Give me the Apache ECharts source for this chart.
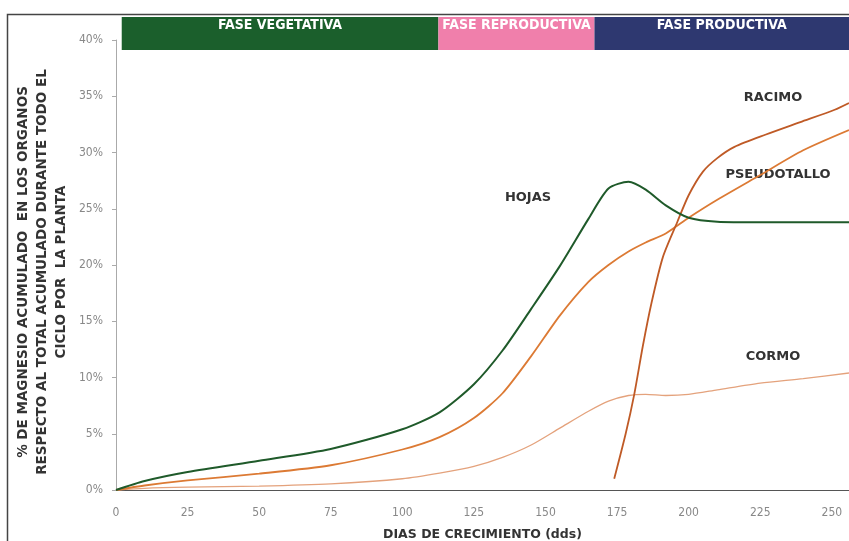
<!DOCTYPE html>
<html>
<head>
<meta charset="utf-8">
<script src="https://cdn.jsdelivr.net/npm/echarts@6/dist/echarts.min.js"></script>
<style>html,body{margin:0;padding:0;background:#fff}#c{width:849px;height:541px}</style>
</head>
<body>
<div id="c"></div>
<script>
// ---- data (días de crecimiento, % de magnesio acumulado) ----
var dias        = [0, 10, 25, 50, 75, 100, 113, 125, 135, 145, 155, 165, 172, 179, 185, 192, 200, 210, 225, 240, 256];
var hojas       = [0, 0.8, 1.6, 2.6, 3.65, 5.4, 6.9, 9.4, 12.4, 16.1, 19.9, 24.1, 26.8, 27.4, 26.7, 25.3, 24.2, 23.85, 23.8, 23.8, 23.8];
var pseudotallo = [0, 0.4, 0.85, 1.45, 2.2, 3.6, 4.7, 6.4, 8.6, 11.9, 15.5, 18.5, 20.0, 21.2, 22.0, 22.8, 24.2, 25.8, 28.0, 30.2, 32.0];
var cormo       = [0, 0.15, 0.25, 0.35, 0.55, 1.0, 1.5, 2.1, 2.9, 4.0, 5.5, 7.0, 7.9, 8.4, 8.5, 8.4, 8.5, 8.9, 9.5, 9.9, 10.4];
var racimoDias  = [174, 178, 181, 184, 187, 191, 196, 200, 205, 210, 216, 227, 239, 251, 256];
var racimo      = [1.0, 5.0, 8.5, 12.8, 16.6, 20.7, 23.8, 26.2, 28.3, 29.5, 30.5, 31.6, 32.7, 33.8, 34.4];
var fases       = ['FASE VEGETATIVA', 'FASE REPRODUCTIVA', 'FASE PRODUCTIVA'];
var faseInicio  = [2, 112.6, 167.1];
var faseFin     = [112.6, 167.1, 256.3];
var xTicks      = [0, 25, 50, 75, 100, 125, 150, 175, 200, 225, 250];
var yTicks      = [0, 5, 10, 15, 20, 25, 30, 35, 40];
var etiquetas   = ['HOJAS', 'PSEUDOTALLO', 'RACIMO', 'CORMO'];

function pares(xs, ys){ return xs.map(function(x,i){ return [x, ys[i]]; }); }

var colores = { hojas:'#1f5a2a', pseudo:'#dc7a34', racimo:'#bf5a26', cormo:'#e4a27c' };
var faseColores = ['#1b5f2c', '#f07fab', '#2e3870'];

var faseSeries = [{
  type:'bar', xAxisIndex:1, yAxisIndex:1, stack:'f', silent:true,
  data:[faseInicio[0]], itemStyle:{color:'transparent'}, barWidth:'100%'
}];
fases.forEach(function(n,i){
  faseSeries.push({
    type:'bar', xAxisIndex:1, yAxisIndex:1, stack:'f', silent:true, name:n,
    data:[faseFin[i]-faseInicio[i]], barWidth:'100%',
    itemStyle:{color:faseColores[i]},
    label:{show:true, position:'insideTop', distance:1, formatter:n, color:'#fff',
      fontFamily:'DejaVu Sans Condensed', fontWeight:'bold', fontSize:14}
  });
});

function linea(nombre, data, color, w){
  return {type:'line', name:nombre, data:data, smooth:0.25, symbol:'none',
    lineStyle:{color:color, width:w}, itemStyle:{color:color}, clip:false};
}

var tickFont = 'DejaVu Sans Condensed';
var chart = echarts.init(document.getElementById('c'), null, {renderer:'canvas'});
chart.setOption({
  animation:false,
  backgroundColor:'#fff',
  grid:[
    {left:116, right:0, top:40, bottom:51, containLabel:false, outerBoundsMode:'none'},
    {left:116, right:0, top:17, height:33, containLabel:false, outerBoundsMode:'none'}
  ],
  xAxis:[
    {type:'value', min:0, max:256, interval:25, gridIndex:0,
      axisLine:{lineStyle:{color:'#555', width:1.2}},
      axisTick:{show:false}, splitLine:{show:false},
      axisLabel:{color:'#888', fontFamily:tickFont, fontSize:12, margin:17, showMaxLabel:false,
        formatter:function(v){ return xTicks.indexOf(v) >= 0 ? String(v) : ''; }},
      name:'DIAS DE CRECIMIENTO (dds)', nameLocation:'middle', nameGap:38,
      nameTextStyle:{color:'#333', fontFamily:'DejaVu Sans', fontWeight:'bold', fontSize:12.5}
    },
    {type:'value', min:0, max:256, gridIndex:1, show:false}
  ],
  yAxis:[
    {type:'value', min:0, max:40, interval:5, gridIndex:0,
      axisLine:{show:true, lineStyle:{color:'#aaa'}},
      axisTick:{show:true, inside:false, length:4, lineStyle:{color:'#aaa'}},
      splitLine:{show:false},
      axisLabel:{color:'#888', fontFamily:tickFont, fontSize:12, margin:13,
        formatter:function(v){ return yTicks.indexOf(v) >= 0 ? v + '%' : ''; }}
    },
    {type:'category', data:['f'], gridIndex:1, show:false}
  ],
  series: faseSeries.concat([
    linea('CORMO', pares(dias, cormo), colores.cormo, 1.3),
    linea('PSEUDOTALLO', pares(dias, pseudotallo), colores.pseudo, 1.8),
    linea('RACIMO', pares(racimoDias, racimo), colores.racimo, 1.8),
    linea('HOJAS', pares(dias, hojas), colores.hojas, 2)
  ]),
  graphic:[
    {type:'rect', left:5, top:12, shape:{width:850, height:540}, style:{fill:'none', stroke:'#444', lineWidth:1.5}, silent:true},
    {type:'text', x:42, y:272, rotation:Math.PI/2, style:{
      text:'% DE MAGNESIO ACUMULADO  EN LOS ORGANOS\nRESPECTO AL TOTAL ACUMULADO DURANTE TODO EL\nCICLO POR  LA PLANTA',
      align:'center', verticalAlign:'middle', lineHeight:19,
      font:'bold 13.5px "DejaVu Sans"', fill:'#333'}},
    {type:'text', x:528, y:198, style:{text:etiquetas[0], align:'center', verticalAlign:'middle', font:'bold 13px "DejaVu Sans"', fill:'#333'}},
    {type:'text', x:778, y:175, style:{text:etiquetas[1], align:'center', verticalAlign:'middle', font:'bold 13px "DejaVu Sans"', fill:'#333'}},
    {type:'text', x:773, y:98, style:{text:etiquetas[2], align:'center', verticalAlign:'middle', font:'bold 13px "DejaVu Sans"', fill:'#333'}},
    {type:'text', x:773, y:357, style:{text:etiquetas[3], align:'center', verticalAlign:'middle', font:'bold 13px "DejaVu Sans"', fill:'#333'}}
  ]
});
</script>
</body>
</html>
